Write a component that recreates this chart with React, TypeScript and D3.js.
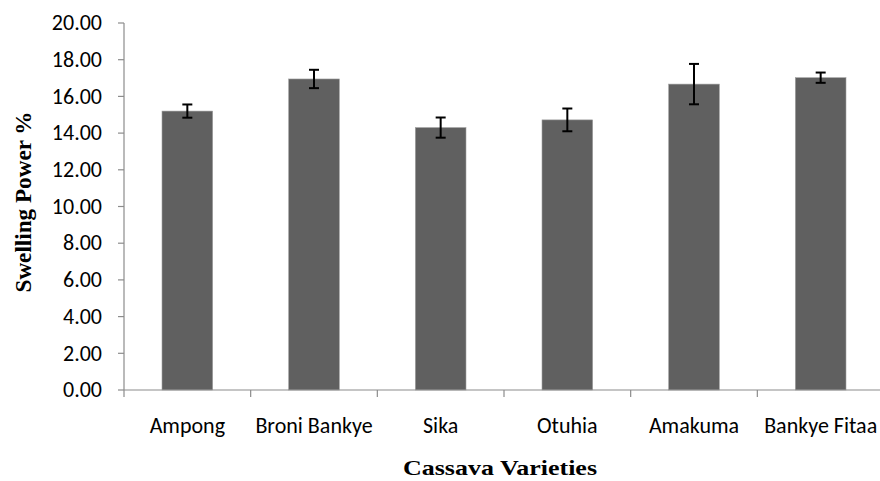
import React from "react";
import * as d3 from "d3";

const categories = ["Ampong", "Broni Bankye", "Sika", "Otuhia", "Amakuma", "Bankye Fitaa"];
const values = [15.2, 16.95, 14.3, 14.72, 16.67, 17.02];
const errors = [0.36, 0.5, 0.55, 0.62, 1.1, 0.28];
const yTicks = [0, 2, 4, 6, 8, 10, 12, 14, 16, 18, 20];

export default function App() {
  const W = 880, H = 481;
  const left = 124, right = 884, top = 23, bottom = 390;
  const x = d3.scaleBand<string>().domain(categories).range([left, right]).paddingInner(0.6).paddingOuter(0.3);
  const xb = d3.scaleBand<string>().domain(categories).range([left, right]);
  const y = d3.scaleLinear().domain([0, 20]).range([bottom, top]);
  const axisColor = "#8c8c8c";
  const tickFont = "Carlito, Calibri, Lato, sans-serif";
  const serif = "'Liberation Serif', 'Times New Roman', serif";
  return (
    <svg width={W} height={H} style={{ position: "absolute", left: 0, top: 0, background: "#fff" }}>
      {categories.map((c, i) => (
        <rect key={c} x={x(c)} y={y(values[i])} width={x.bandwidth()} height={bottom - y(values[i])} fill="#606060" stroke="#a0a0a0" strokeWidth={0.6} />
      ))}
      <line x1={left} x2={left} y1={top} y2={bottom} stroke={axisColor} strokeWidth={1.2} />
      {yTicks.map((t) => (
        <g key={t}>
          <line x1={left - 6} x2={left} y1={y(t)} y2={y(t)} stroke={axisColor} strokeWidth={1.2} />
          <text x={102} y={y(t)} dy="0.33em" textAnchor="end" fontFamily={tickFont} fontSize={22} fill="#000">
            {t.toFixed(2)}
          </text>
        </g>
      ))}
      <line x1={left} x2={right} y1={bottom} y2={bottom} stroke={axisColor} strokeWidth={1.2} />
      {categories.map((c) => (
        <line key={c + "t"} x1={xb(c)!} x2={xb(c)!} y1={bottom} y2={bottom + 7} stroke={axisColor} strokeWidth={1.2} />
      ))}
      {categories.map((c) => (
        <text key={c + "l"} x={xb(c)! + xb.bandwidth() / 2} y={433} textAnchor="middle" fontFamily={tickFont} fontSize={22} fill="#000">
          {c}
        </text>
      ))}
      {categories.map((c, i) => {
        const cx = x(c)! + x.bandwidth() / 2;
        const y1 = y(values[i] + errors[i]);
        const y2 = y(values[i] - errors[i]);
        return (
          <g key={c + "e"} stroke="#000" strokeWidth={2}>
            <line x1={cx} x2={cx} y1={y1} y2={y2} />
            <line x1={cx - 5} x2={cx + 5} y1={y1} y2={y1} />
            <line x1={cx - 5} x2={cx + 5} y1={y2} y2={y2} />
          </g>
        );
      })}
      <text x={500} y={475} textAnchor="middle" fontFamily={serif} fontWeight="bold" fontSize={22} textLength={194} lengthAdjust="spacingAndGlyphs" fill="#000">
        Cassava Varieties
      </text>
      <text transform={`translate(31,202) rotate(-90)`} textAnchor="middle" fontFamily={serif} fontWeight="bold" fontSize={23} textLength={181} lengthAdjust="spacingAndGlyphs" fill="#000">
        Swelling Power %
      </text>
    </svg>
  );
}
